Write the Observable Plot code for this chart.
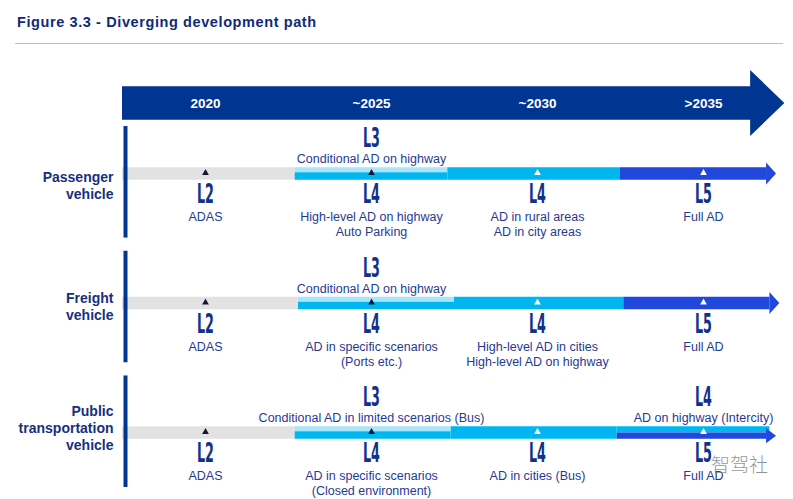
<!DOCTYPE html>
<html><head><meta charset="utf-8">
<script src="https://cdn.jsdelivr.net/npm/d3@7"></script>
<script src="https://cdn.jsdelivr.net/npm/@observablehq/plot@0.6"></script>
<style>
body{margin:0;background:#fff;width:793px;height:499px;overflow:hidden;position:relative;font-family:"Liberation Sans",Arial,sans-serif}
#head{height:50px;position:relative}
#head .t{position:absolute;left:17px;top:14px;font-weight:bold;font-size:14.5px;color:#0f2a78;letter-spacing:0.6px;white-space:nowrap}
#head .rule{position:absolute;left:15px;right:10px;top:43px;height:1px;background:#8ecdf2}
#wm{position:absolute;left:711px;top:450px;font-family:"Noto Sans CJK SC",sans-serif;font-weight:300;font-size:19px;color:rgba(110,110,110,0.75)}
</style></head>
<body>
<div id="head"><div class="t">Figure 3.3 - Diverging development path</div><div class="rule"></div></div>
<div id="chart"></div>
<div id="wm">智驾社</div>
<script>
// ---- data ----
const periods = ["2020", "~2025", "~2030", ">2035"];
const periodYears = [2020, 2025, 2030, 2035];
const vehicles = ["Passenger\nvehicle", "Freight\nvehicle", "Public\ntransportation\nvehicle"];

// timeline bands per vehicle row (year where each coloured stretch starts / ends)
const bandRow   = [0, 0, 0, 0, 1, 1, 1, 1, 2, 2, 2, 2];
const bandFrom  = [2017.5, 2022.7, 2027.3, 2032.5, 2017.5, 2022.8, 2027.5, 2032.6, 2017.5, 2022.7, 2027.4, 2032.4];
const bandTo    = [2022.7, 2027.3, 2032.5, 2037.2, 2022.8, 2027.5, 2032.6, 2037.3, 2022.7, 2027.4, 2032.4, 2037.2];
const bandLevel = ["L2", "L3/L4", "L4", "L5", "L2", "L3/L4", "L4", "L5", "L2", "L3/L4", "L4", "L4/L5"];

// level labels
const labelRow    = [0, 0, 0, 0, 0, 1, 1, 1, 1, 1, 2, 2, 2, 2, 2, 2];
const labelPeriod = [0, 1, 1, 2, 3, 0, 1, 1, 2, 3, 0, 1, 1, 2, 3, 3];
const labelSide   = ["below", "above", "below", "below", "below",
                     "below", "above", "below", "below", "below",
                     "below", "above", "below", "below", "above", "below"];
const labelLevel  = ["L2", "L3", "L4", "L4", "L5", "L2", "L3", "L4", "L4", "L5", "L2", "L3", "L4", "L4", "L4", "L5"];
const labelText   = [
  "ADAS", "Conditional AD on highway", "High-level AD on highway\nAuto Parking", "AD in rural areas\nAD in city areas", "Full AD",
  "ADAS", "Conditional AD on highway", "AD in specific scenarios\n(Ports etc.)", "High-level AD in cities\nHigh-level AD on highway", "Full AD",
  "ADAS", "Conditional AD in limited scenarios (Bus)", "AD in specific scenarios\n(Closed environment)", "AD in cities (Bus)", "AD on highway (Intercity)", "Full AD"
];

// ---- styles / layout ----
const levelColor = {L2: "#e2e2e2", L3: "#a9e5fa", L4: "#00b6f0", L5: "#2147dd"};
const navy = "#003591";
const axisStart = 2017.5, headerEnd = 2037.45;
const PX = 129.5;               // pixels per row unit
const u = px => px / PX;
const groupY = i => 0.066 + 0.963 * i;   // centre of each vehicle group (bar)
const nameY = i => 0.085 + 0.936 * i;    // centre of each vehicle name

// ---- derived geometry ----
const bandHalf = u(6.25), headLen = 0.3, headHalf = u(11);
const pieces = [], heads = [];
function addHead(id, tip, c, half, color) {
  heads.push({id, x: tip - headLen, lo: c - half, hi: c + half, color});
  heads.push({id, x: tip, lo: c, hi: c, color});
}
bandRow.forEach((row, i) => {
  const [top, bottom] = bandLevel[i].split("/");
  const rowEnd = d3.max(bandTo.filter((_, j) => bandRow[j] === row));
  const arrow = bandTo[i] === rowEnd;
  const y0 = row - bandHalf, y1 = row + bandHalf;
  if (!bottom) {
    pieces.push({x1: bandFrom[i], x2: arrow ? bandTo[i] - headLen : bandTo[i], y1: y0, y2: y1, color: levelColor[top]});
    if (arrow) addHead("b" + i, bandTo[i], row, headHalf, levelColor[top]);
  } else {
    const split = y0 + 2 * bandHalf * (top === "L3" ? 0.4 : 0.5);
    pieces.push({x1: bandFrom[i], x2: arrow ? bandTo[i] - 0.2 : bandTo[i], y1: y0, y2: split, color: levelColor[top]});
    pieces.push({x1: bandFrom[i], x2: arrow ? bandTo[i] - headLen : bandTo[i], y1: split, y2: y1, color: levelColor[bottom]});
    if (arrow) addHead("b" + i, bandTo[i], (split + y1) / 2, u(7.5), levelColor[bottom]);
  }
});

const hc = u(-70.5), hs = u(16.7), hh = u(33), hShaft = headerEnd - 1.03;
const header = [
  {id: "h", x: axisStart, lo: hc - hs, hi: hc + hs, color: navy},
  {id: "h", x: hShaft, lo: hc - hs, hi: hc + hs, color: navy},
  {id: "h", x: hShaft, lo: hc - hh, hi: hc + hh, color: navy},
  {id: "h", x: headerEnd, lo: hc, hi: hc, color: navy}
];

const markers = [];
vehicles.forEach((v, row) => periodYears.forEach(yr => {
  const i = bandRow.findIndex((r, j) => r === row && bandFrom[j] <= yr && yr < bandTo[j]);
  const lvl = bandLevel[i];
  markers.push({row, yr, fill: (lvl === "L2" || lvl.startsWith("L3")) ? "#15163a" : "#ffffff"});
}));

const labels = labelRow.map((row, i) => ({
  row, x: periodYears[labelPeriod[i]], side: labelSide[i], level: labelLevel[i], text: labelText[i]
}));
const above = labels.filter(d => d.side === "above");
const below = labels.filter(d => d.side === "below");
const textColor = "#1f3a93", levelFill = "#10318c";
const levelFont = "'Liberation Sans Narrow', 'DejaVu Sans Condensed', sans-serif";

const plot = Plot.plot({
  width: 793, height: 449, margin: 0,
  x: {domain: [2020, 2035], range: [205, 703], axis: null},
  y: {domain: [0, 2], range: [123.5, 382.5], axis: null},
  color: {type: "identity"},
  style: {fontFamily: "'Liberation Sans', Arial, sans-serif", background: "white", overflow: "visible"},
  marks: [
    Plot.area(header, {x1: "x", y1: "lo", y2: "hi", z: "id", fill: "color", curve: "linear"}),
    Plot.text(periods, {x: (d, i) => periodYears[i], y: () => hc, text: d => d, fill: "white", fontWeight: "bold", fontSize: 13.5}),
    Plot.rect(pieces, {x1: "x1", x2: "x2", y1: "y1", y2: "y2", fill: "color"}),
    Plot.area(heads, {x1: "x", y1: "lo", y2: "hi", z: "id", fill: "color", curve: "linear"}),
    Plot.ruleX(vehicles, {x: () => axisStart, y1: (d, i) => groupY(i) - u(56), y2: (d, i) => groupY(i) + u(55.5), stroke: navy, strokeWidth: 4, dx: 3}),
    Plot.text(vehicles, {x: () => axisStart, y: (d, i) => nameY(i), text: d => d, dx: -9, textAnchor: "end", lineAnchor: "middle",
      lineHeight: 17 / 14, fontWeight: "bold", fontSize: 14, fill: "#16307e"}),
    Plot.dot(markers, {x: "yr", y: "row", symbol: "triangle", r: 2.5, fill: "fill", dy: -1}),
    Plot.text(above, {x: "x", y: "row", text: "level", dy: -35.5, fontSize: 27, fontWeight: "bold", fontFamily: levelFont, fill: levelFill}),
    Plot.text(below, {x: "x", y: "row", text: "level", dy: 20.5, fontSize: 27, fontWeight: "bold", fontFamily: levelFont, fill: levelFill}),
    Plot.text(above, {x: "x", y: "row", text: "text", dy: -15, fontSize: 12.5, fill: textColor}),
    Plot.text(below, {x: "x", y: "row", text: "text", dy: 36.5, lineAnchor: "top", lineHeight: 1.2, fontSize: 12.5, fill: textColor})
  ]
});
document.getElementById("chart").appendChild(plot);
Array.from(plot.querySelectorAll("text"))
  .filter(t => /^L\d$/.test(t.textContent.trim()))
  .forEach(t => {
    t.setAttribute("textLength", 17);
    t.setAttribute("lengthAdjust", "spacingAndGlyphs");
  });
</script>
</body></html>
